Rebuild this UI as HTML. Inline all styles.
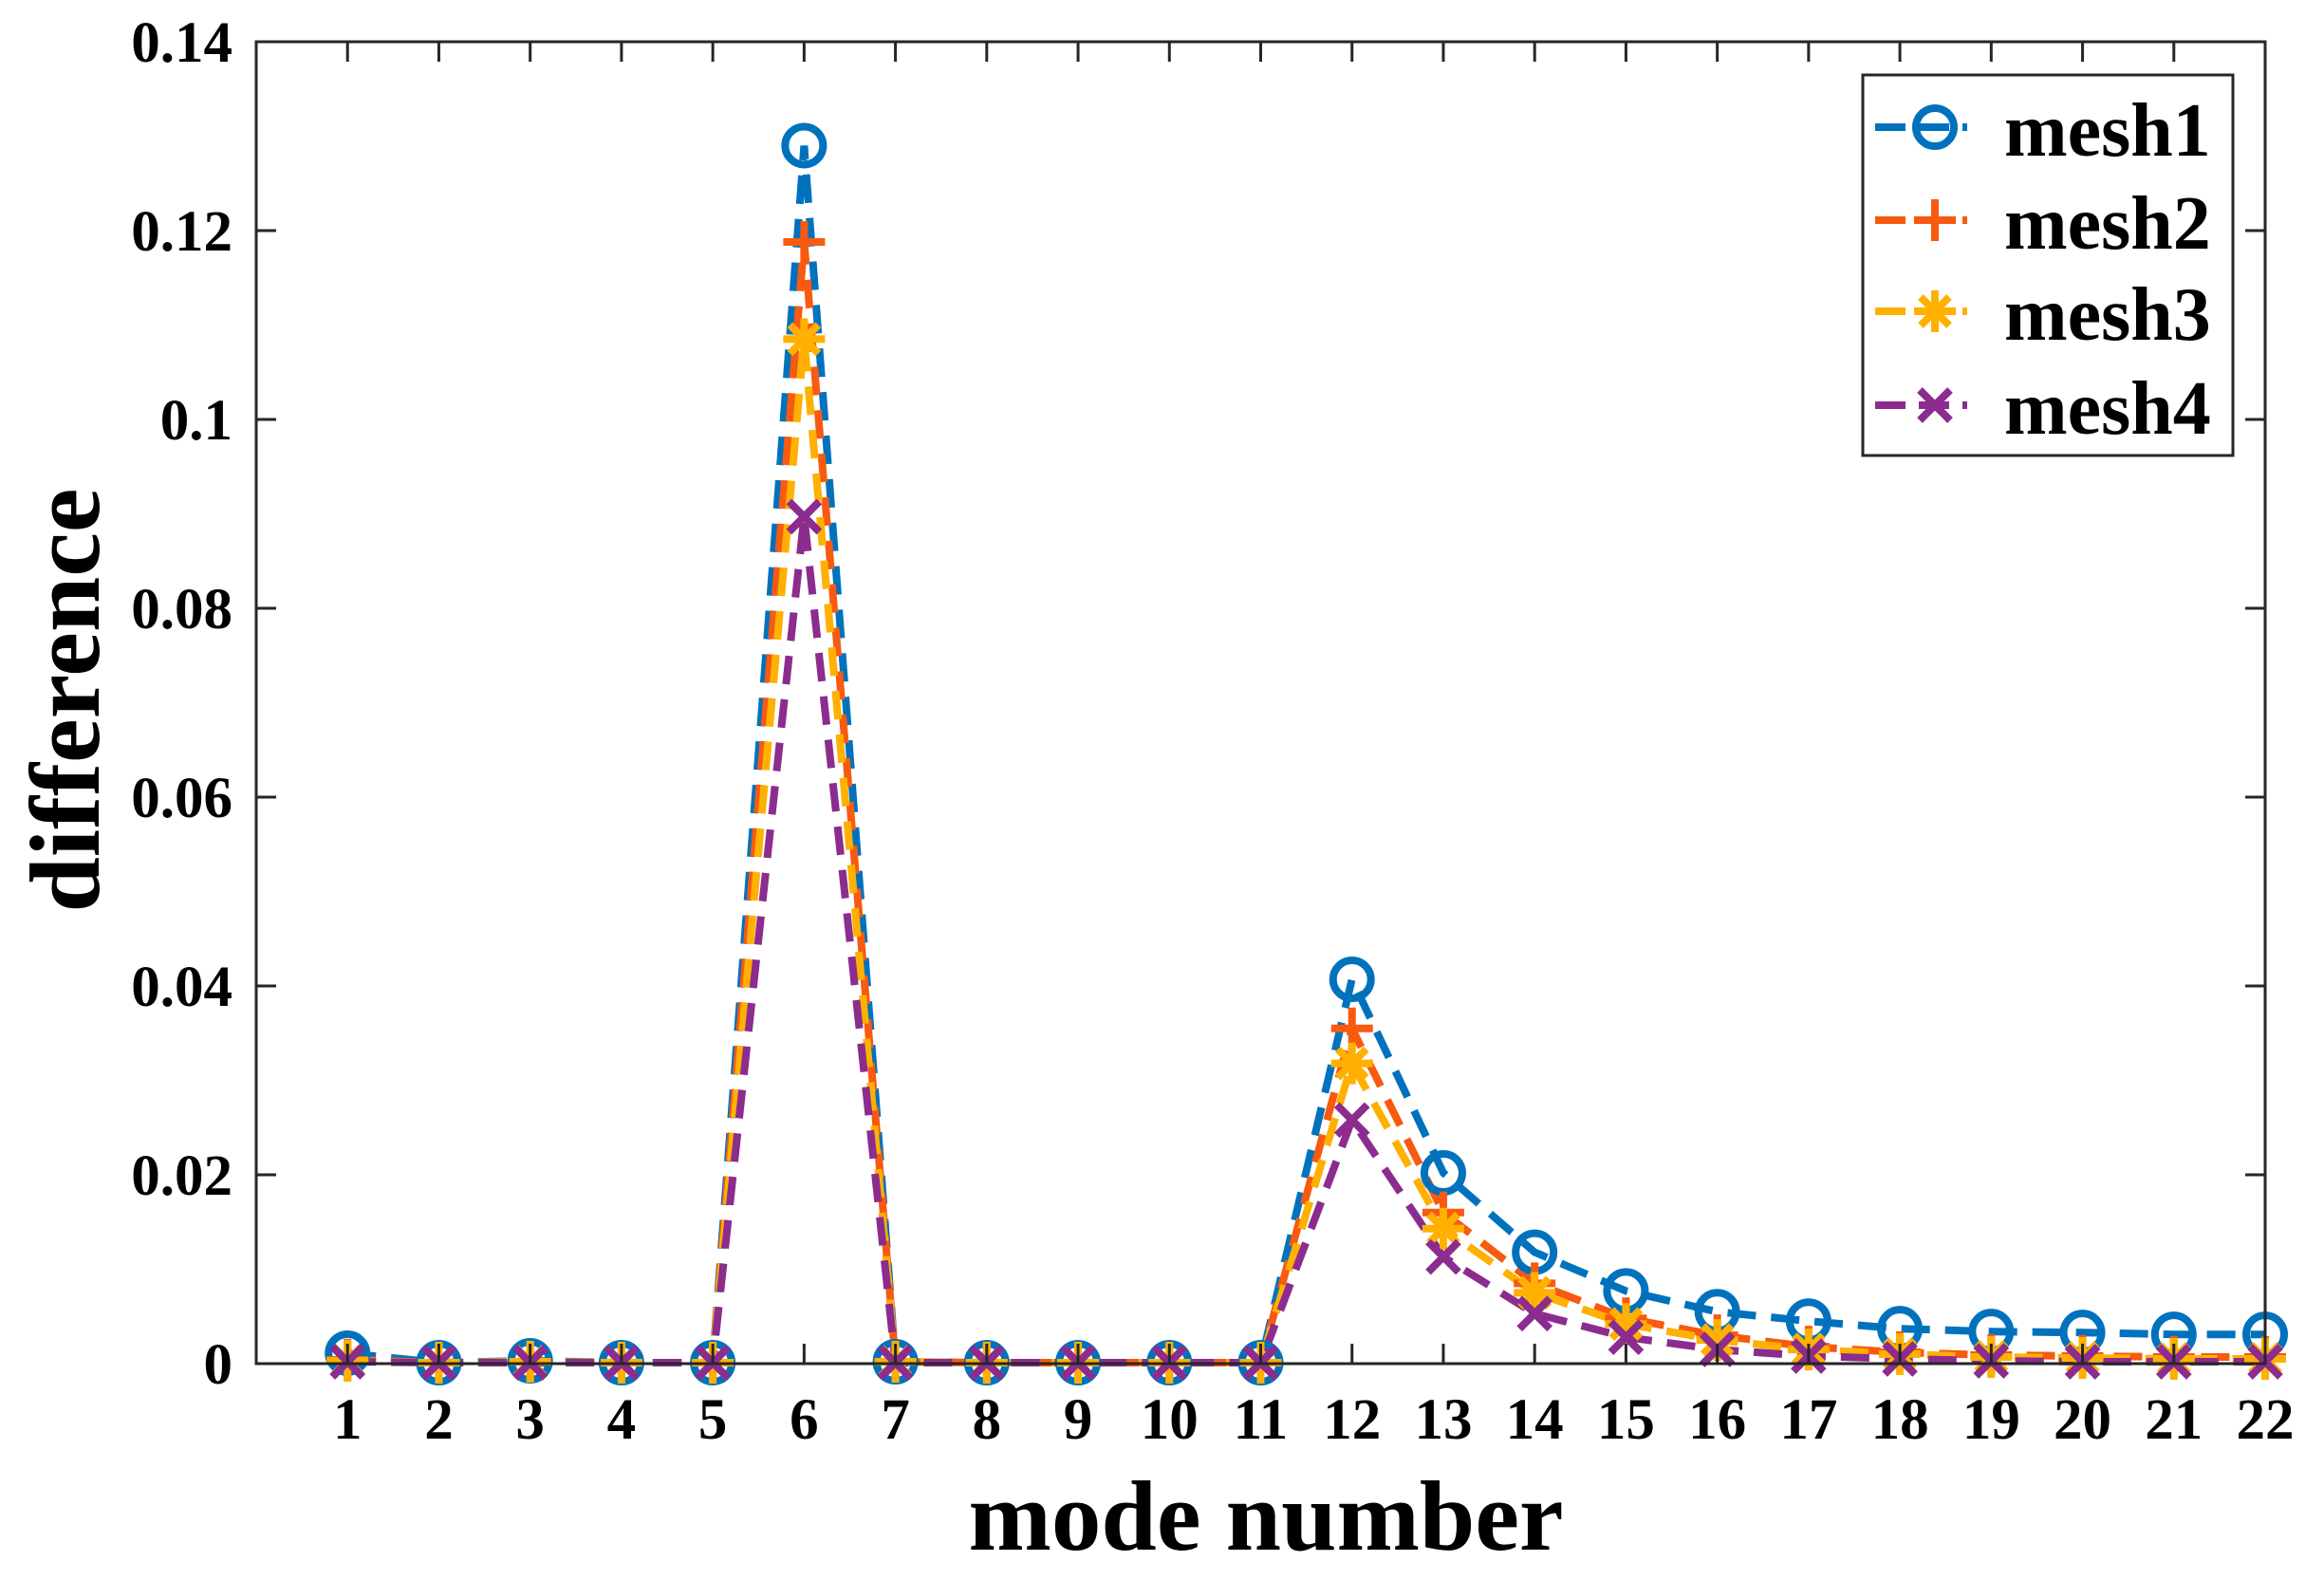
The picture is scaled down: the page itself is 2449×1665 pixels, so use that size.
<!DOCTYPE html>
<html><head><meta charset="utf-8"><style>
html,body{margin:0;padding:0;background:#fff;}
svg{display:block;}
text{font-family:"Liberation Serif",serif;font-weight:bold;fill:#000;}
</style></head><body>
<svg id="s" width="2449" height="1665" viewBox="0 0 2449 1665" xmlns="http://www.w3.org/2000/svg">
<rect width="2449" height="1665" fill="#fff"/>
<g id="plot"></g>
<g id="axes" stroke="#262626" stroke-width="3" fill="none">
<rect x="270" y="44" width="2117" height="1393"/>
</g>
<g id="ticks" stroke="#262626" stroke-width="3"></g>
<g id="labels" font-size="61"></g>
<text x="1334" y="1633" font-size="105" text-anchor="middle">mode number</text>
<text transform="translate(104,738) rotate(-90)" font-size="105" text-anchor="middle">difference</text>
<g id="legend">
<rect x="1963" y="79" width="390" height="401" fill="#fff" stroke="#262626" stroke-width="3"/>
</g>
</svg>
<script>
var NS="http://www.w3.org/2000/svg";
function el(p,t,a,txt){var e=document.createElementNS(NS,t);for(var k in a)e.setAttribute(k,a[k]);if(txt!==undefined)e.textContent=txt;document.getElementById(p).appendChild(e);return e;}
var L=270,R=2387,T=44,B=1437;
function X(i){return L+(R-L)*i/22;}
function Y(v){return B-(B-T)*v/0.14;}
// ticks
for(var i=1;i<=22;i++){var x=X(i);
el("ticks","line",{x1:x,y1:B,x2:x,y2:B-21});el("ticks","line",{x1:x,y1:T,x2:x,y2:T+21});
el("labels","text",{x:x,y:1516,"text-anchor":"middle"},String(i));}
var yl=["0","0.02","0.04","0.06","0.08","0.1","0.12","0.14"];
for(var j=0;j<8;j++){var y=Y(j*0.02);
el("ticks","line",{x1:L,y1:y,x2:L+21,y2:y});el("ticks","line",{x1:R,y1:y,x2:R-21,y2:y});
el("labels","text",{x:245,y:y+21,"text-anchor":"end"},yl[j]);}
var data=[
[0.0011,0.0001,0.0003,0.0001,0.0001,0.129,0.0002,0.0001,0.0001,0.0001,0.0001,0.0407,0.0202,0.0118,0.0077,0.0055,0.0045,0.0037,0.0034,0.0033,0.0031,0.0031],
[0.0004,0.0001,0.0002,0.0001,0.0001,0.1188,0.0002,0.0001,0.0001,0.0001,0.0001,0.0355,0.016,0.0085,0.0048,0.003,0.0018,0.0012,0.0009,0.0008,0.0007,0.0007],
[0.0003,0.0001,0.0002,0.0001,0.0001,0.1085,0.0002,0.0001,0.0001,0.0001,0.0001,0.0318,0.0143,0.0075,0.0042,0.0025,0.0015,0.001,0.0007,0.0006,0.0005,0.0005],
[0.0002,0.0001,0.0001,0.0001,0.0001,0.0897,0.0001,0.0001,0.0001,0.0001,0.0001,0.0258,0.0113,0.0053,0.0028,0.0015,0.0008,0.0005,0.0003,0.0002,0.0002,0.0002]];
var col=["#0072BD","#F75A10","#FFB000","#8B2C8E"];
function marker(g,k,x,y){var c=col[k],s=20;
if(k==0)el(g,"circle",{cx:x,cy:y,r:20,fill:"none",stroke:c,"stroke-width":8});
if(k==1){el(g,"path",{d:"M"+(x-22)+" "+y+"H"+(x+22)+"M"+x+" "+(y-22)+"V"+(y+22),stroke:c,"stroke-width":8,fill:"none"});}
if(k==2){el(g,"path",{d:"M"+(x-22)+" "+y+"H"+(x+22)+"M"+x+" "+(y-22)+"V"+(y+22)+"M"+(x-15)+" "+(y-15)+"L"+(x+15)+" "+(y+15)+"M"+(x-15)+" "+(y+15)+"L"+(x+15)+" "+(y-15),stroke:c,"stroke-width":8,fill:"none"});}
if(k==3){el(g,"path",{d:"M"+(x-16)+" "+(y-16)+"L"+(x+16)+" "+(y+16)+"M"+(x-16)+" "+(y+16)+"L"+(x+16)+" "+(y-16),stroke:c,"stroke-width":8,fill:"none"});}
}
for(var k=0;k<4;k++){var d="";
for(var i=0;i<22;i++)d+=(i?"L":"M")+X(i+1).toFixed(1)+" "+Y(data[k][i]).toFixed(1);
el("plot","path",{d:d,fill:"none",stroke:col[k],"stroke-width":8,"stroke-dasharray":"30 16"});}
for(var k=0;k<4;k++)for(var i=0;i<22;i++)marker("plot",k,X(i+1),Y(data[k][i]));
var ly=[134,232,328,427];
for(var k=0;k<4;k++){
el("legend","line",{x1:1976,y1:ly[k],x2:2073,y2:ly[k],stroke:col[k],"stroke-width":8,"stroke-dasharray":"32 14"});
marker("legend",k,2039,ly[k]);
el("legend","text",{x:2112,y:ly[k]+30,"font-size":80},"mesh"+(k+1));}
</script>
</body></html>
